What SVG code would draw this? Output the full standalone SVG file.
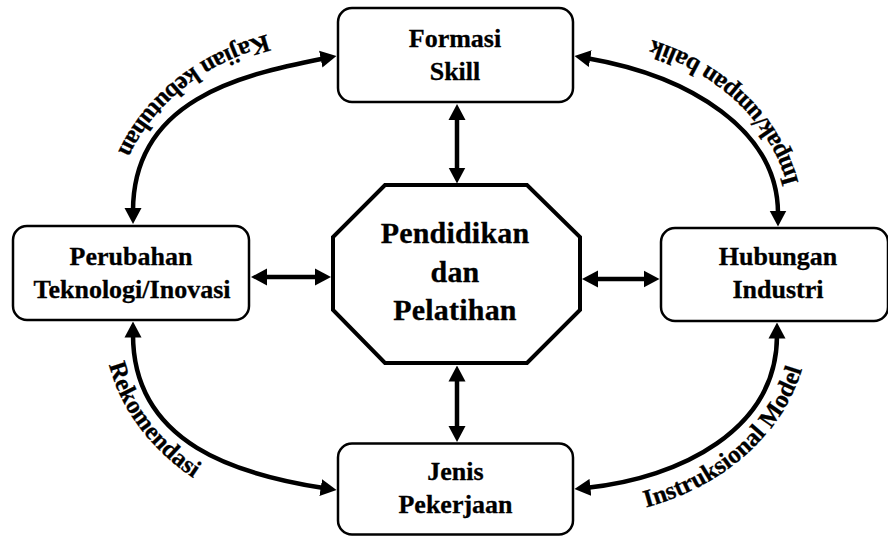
<svg xmlns="http://www.w3.org/2000/svg" width="888" height="537" viewBox="0 0 888 537">
  <style>
    .box { fill: #fff; stroke: #000; stroke-width: 2.5; }
    .oct { fill: #fff; stroke: #000; stroke-width: 4; stroke-linejoin: miter; }
    .lbl { font-family: "Liberation Serif", "Times New Roman", serif; font-weight: bold; font-size: 26px; fill: #000; stroke: #000; stroke-width: 0.3; text-anchor: middle; }
    .big { font-family: "Liberation Serif", "Times New Roman", serif; font-weight: bold; font-size: 30px; fill: #000; stroke: #000; stroke-width: 0.3; text-anchor: middle; letter-spacing: 0.2px; }
    .arc { font-family: "Liberation Serif", "Times New Roman", serif; font-weight: bold; font-size: 25px; fill: #000; stroke: #000; stroke-width: 0.3; }
    .con { fill: none; stroke: #000; stroke-width: 4.5; marker-start: url(#ah); marker-end: url(#ah); }
  </style>
  <defs>
    <marker id="ah" viewBox="0 0 16 18" refX="3" refY="9" markerWidth="16" markerHeight="18" markerUnits="userSpaceOnUse" orient="auto-start-reverse">
      <path d="M0,0.5 L16,9 L0,17.5 z" fill="#000"/>
    </marker>
    <path id="tpK" d="M314.8,26.7 A232,196 0 0 0 104.7,198.1"/>
    <path id="tpI" d="M803.9,219.1 A232,198 0 0 0 616.3,31.6"/>
    <path id="tpR" d="M103.1,327 A234,200 0 0 0 227.1,496.6"/>
    <path id="tpM" d="M605.8,515.1 A236,195 0 0 0 808.9,328.8"/>
  </defs>
  <rect width="888" height="537" fill="#fff"/>

  <g id="connectors">
    <path class="con" d="M457,117 L457,170.5"/>
    <path class="con" d="M457,378.5 L457,429"/>
    <path class="con" d="M264,277 L318,277"/>
    <path class="con" d="M595,279 L646.5,279"/>
    <path class="con" d="M133,211 C133,100 240,75 323.7,58.5"/>
    <path class="con" d="M587.3,58.2 C690,76 778,130 778,213.5"/>
    <path class="con" d="M133,334.5 C133,445 240,475 323.7,488"/>
    <path class="con" d="M777,335.5 C777,430 680,478 587.4,487.7"/>
    <text class="arc" font-size="26"><textPath href="#tpK" startOffset="50%" text-anchor="middle">Kajian kebutuhan</textPath></text>
    <text class="arc" font-size="25"><textPath href="#tpI" startOffset="50%" text-anchor="middle">Impak/umpan balik</textPath></text>
    <text class="arc" font-size="26"><textPath href="#tpR" startOffset="50%" text-anchor="middle">Rekomendasi</textPath></text>
    <text class="arc" font-size="24"><textPath href="#tpM" startOffset="50%" text-anchor="middle">Instruksional Model</textPath></text>
  </g>

  <g id="formasi-skill">
    <rect class="box" x="338" y="8" width="235" height="94" rx="14"/>
    <text class="lbl" x="455" y="47">Formasi</text>
    <text class="lbl" x="455" y="80">Skill</text>
  </g>

  <g id="perubahan-teknologi">
    <rect class="box" x="13" y="226" width="236" height="94" rx="14"/>
    <text class="lbl" x="131" y="265">Perubahan</text>
    <text class="lbl" x="132" y="298">Teknologi/Inovasi</text>
  </g>

  <g id="hubungan-industri">
    <rect class="box" x="661" y="228" width="227" height="93" rx="14"/>
    <text class="lbl" x="778" y="265">Hubungan</text>
    <text class="lbl" x="778" y="298">Industri</text>
  </g>

  <g id="jenis-pekerjaan">
    <rect class="box" x="338" y="443.5" width="235" height="91" rx="14"/>
    <text class="lbl" x="455.5" y="480">Jenis</text>
    <text class="lbl" x="455.5" y="513">Pekerjaan</text>
  </g>

  <g id="pendidikan-pelatihan">
    <polygon class="oct" points="385,185 527,185 580,237 580,310 527,363 385,363 333,310 333,237"/>
    <text class="big" x="455" y="243">Pendidikan</text>
    <text class="big" x="455" y="282">dan</text>
    <text class="big" x="455" y="320">Pelatihan</text>
  </g>
</svg>
